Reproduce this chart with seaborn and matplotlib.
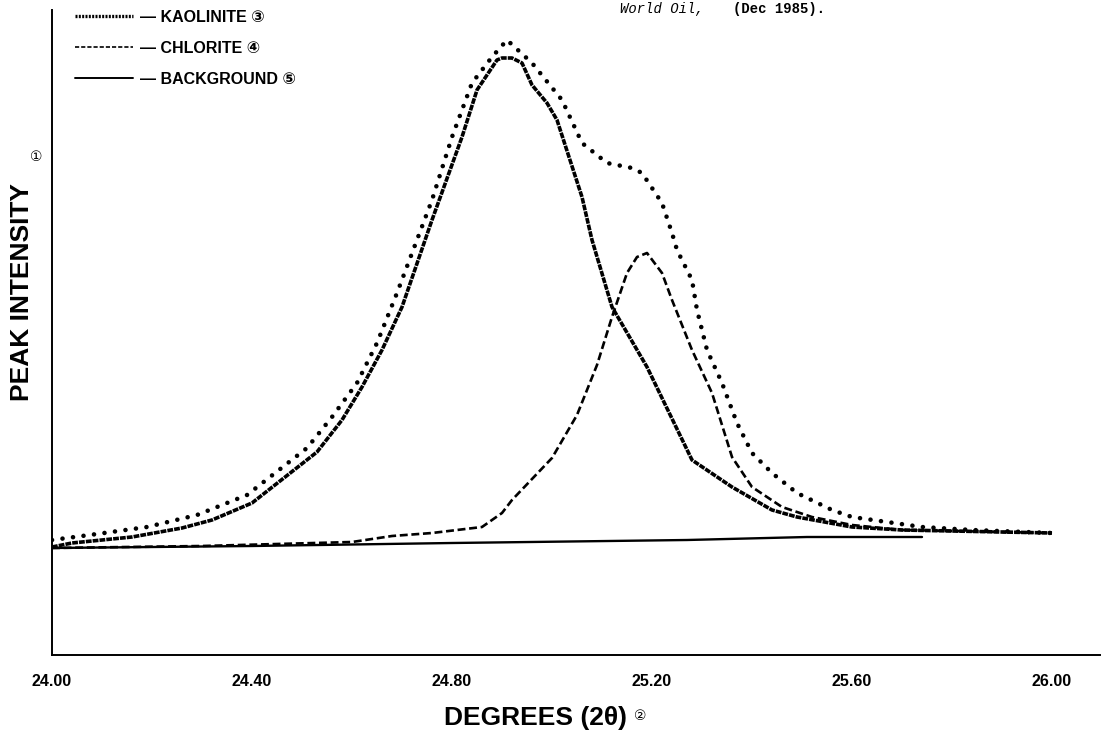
import matplotlib
matplotlib.use("Agg")
import matplotlib.pyplot as plt
import seaborn as sns
import pandas as pd

# Values (degrees 2-theta, relative intensity)
total_deg = [24.00, 24.09, 24.19, 24.29, 24.39, 24.51, 24.56, 24.61, 24.65, 24.69,
             24.76, 24.80, 24.84, 24.88, 24.91, 24.96, 25.02, 25.06, 25.11, 25.16,
             25.18, 25.22, 25.24, 25.25, 25.28, 25.29, 25.31, 25.34, 25.37, 25.40,
             25.44, 25.49, 25.56, 25.60, 25.67, 25.74, 25.84, 26.00]
total_int = [115, 121, 128, 140, 160, 207, 238, 272, 312, 362,
             455, 518, 572, 598, 615, 592, 555, 512, 492, 487,
             482, 452, 422, 405, 375, 345, 305, 272, 232, 202,
             182, 162, 145, 138, 133, 128, 125, 122]

kaol_deg = [24.00, 24.04, 24.16, 24.26, 24.32, 24.40, 24.53, 24.58, 24.62, 24.66,
            24.70, 24.76, 24.82, 24.85, 24.89, 24.90, 24.92, 24.94, 24.96, 24.99,
            25.01, 25.06, 25.08, 25.12, 25.19, 25.28, 25.36, 25.44, 25.49, 25.60,
            25.70, 26.00]
kaol_int = [108, 112, 118, 127, 135, 152, 203, 235, 268, 305,
            348, 435, 518, 565, 595, 597, 597, 592, 570, 552,
            535, 458, 415, 348, 288, 195, 168, 145, 138, 128,
            125, 122]

chl_deg = [24.00, 24.30, 24.60, 24.68, 24.76, 24.86, 24.90, 24.92, 25.00, 25.05,
           25.09, 25.12, 25.15, 25.17, 25.19, 25.22, 25.24, 25.28, 25.32, 25.36,
           25.40, 25.46, 25.52, 25.60, 25.70, 26.00]
chl_int = [107, 109, 113, 119, 122, 128, 142, 155, 197, 240,
           290, 338, 382, 398, 402, 382, 355, 305, 262, 198,
           168, 148, 138, 130, 125, 122]

bg_deg = [24.00, 24.40, 24.80, 25.27, 25.51, 25.74]
bg_int = [107, 109, 112, 115, 118, 118]

tick_pos = [24.0, 24.2, 24.4, 24.6, 24.8, 25.0, 25.2, 25.4, 25.6, 25.8, 26.0]
tick_labels = ["24.00", "", "24.40", "", "24.80", "", "25.20", "", "25.60", "", "26.00"]

sns.set_style("white")
plt.rcParams['font.family'] = ['Liberation Sans', 'DejaVu Sans']
plt.rcParams['text.color'] = 'black'
plt.rcParams['xtick.color'] = 'black'

fig = plt.figure(figsize=(11.02, 7.32), dpi=100)
ax = fig.add_axes([52 / 1102, 77 / 732, 1048 / 1102, 645 / 732])

df_total = pd.DataFrame({"deg": total_deg, "val": total_int})
df_kaol = pd.DataFrame({"deg": kaol_deg, "val": kaol_int})
df_chl = pd.DataFrame({"deg": chl_deg, "val": chl_int})
df_bg = pd.DataFrame({"deg": bg_deg, "val": bg_int})

sns.lineplot(data=df_total, x="deg", y="val", ax=ax, color="black", lw=3.3,
             linestyle=(0, (0.01, 2.3)), dash_capstyle="round", sort=False)
sns.lineplot(data=df_kaol, x="deg", y="val", ax=ax, color="black", lw=2.6,
             linestyle=(0, (1.6, 0.3)), sort=False)
sns.lineplot(data=df_chl, x="deg", y="val", ax=ax, color="black", lw=1.9,
             linestyle=(0, (3, 1.4)), sort=False)
sns.lineplot(data=df_bg, x="deg", y="val", ax=ax, color="black", lw=1.7, sort=False)

ax.set_xlim(24.0, 26.096)
ax.set_ylim(0, 645)
ax.set_yticks([])
ax.set_xticks(tick_pos)
ax.set_xticklabels(tick_labels, fontsize=11.5, fontweight="bold")
ax.tick_params(axis="x", direction="in", length=8, width=1.2, pad=14, colors="black")
for side in ["top", "right"]:
    ax.spines[side].set_visible(False)
for side in ["left", "bottom"]:
    ax.spines[side].set_color("black")
    ax.spines[side].set_linewidth(1.4)
ax.set_xlabel("")
ax.set_ylabel("")

# legend (kaolinite / chlorite / background)
kl, = ax.plot([], [], color="black", lw=2.4, linestyle=(0, (0.6, 0.4)))
cl, = ax.plot([], [], color="black", lw=1.2, linestyle=(0, (2.5, 1.2)))
bl, = ax.plot([], [], color="black", lw=1.4)
ax.legend([kl, cl, bl], ["— KAOLINITE ③", "— CHLORITE ④", "— BACKGROUND ⑤"],
          loc="upper left", bbox_to_anchor=(23 / 1048, 1.0), frameon=False,
          handlelength=3.6, handletextpad=0.5, labelspacing=1.0,
          borderpad=0, borderaxespad=0,
          prop={"family": ["Liberation Sans", "DejaVu Sans"], "size": 11.5, "weight": "bold"})

fig.text(22 / 1102, 1 - 292 / 732, "PEAK INTENSITY", rotation=90, fontsize=19,
         fontweight="bold", ha="center", va="center")
fig.text(36 / 1102, 1 - 157 / 732, "①", fontsize=10, ha="center", va="center",
         family=["DejaVu Sans"])
fig.text(535 / 1102, 1 - 718 / 732, "DEGREES (2θ)", fontsize=19, fontweight="bold",
         ha="center", va="center")
fig.text(640 / 1102, 1 - 716 / 732, "②", fontsize=10, ha="center", va="center",
         family=["DejaVu Sans"])

fig.text(620 / 1102, 1 - 13 / 732, "World Oil,", fontsize=10, style="italic",
         family=["Liberation Mono"], ha="left", va="baseline")
fig.text(733 / 1102, 1 - 13 / 732, "(Dec 1985).", fontsize=10, fontweight="bold",
         family=["Liberation Mono"], ha="left", va="baseline")

fig.savefig("out.png", dpi=100, facecolor="white")
